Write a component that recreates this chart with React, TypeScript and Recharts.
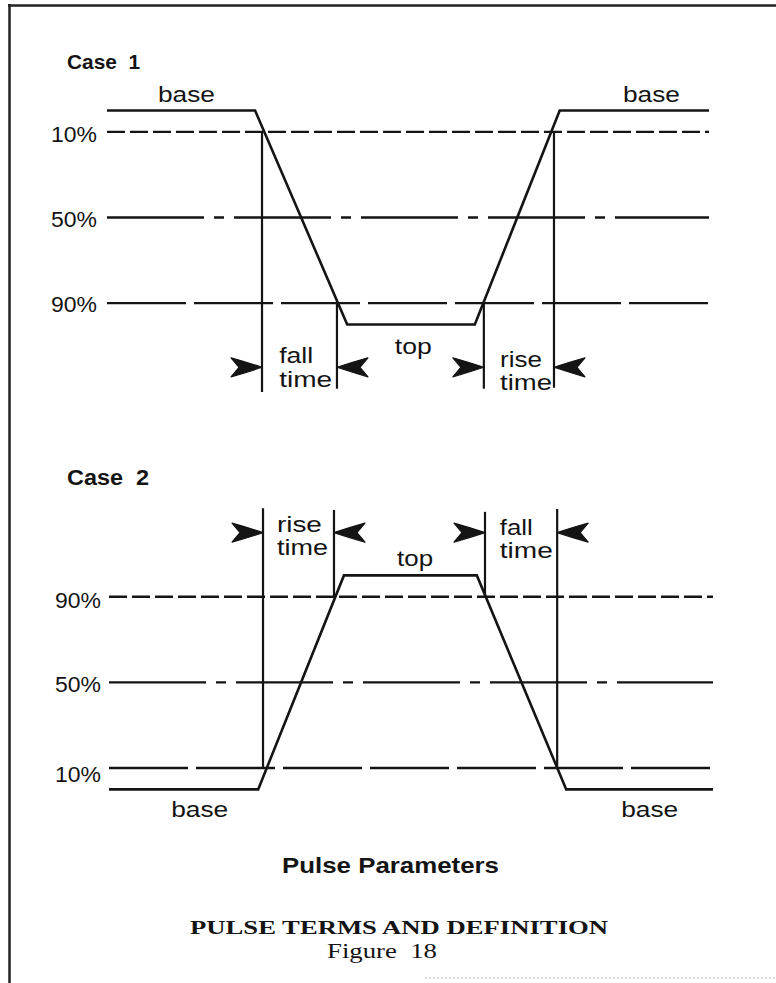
import React from 'react';
import { LineChart, Line, XAxis, YAxis, ReferenceLine, ReferenceDot } from 'recharts';

// ---- data (time in arbitrary units 0..100, level in % of pulse amplitude) ----
const levelTicks = [10, 50, 90];

const case1Time = [0, 24.6, 39.9, 61.1, 75.2, 100];
const case1Level = [0, 0, 100, 100, 0, 0];
const case2Time = [0, 24.7, 38.9, 60.9, 75.7, 100];
const case2Level = [0, 0, 100, 100, 0, 0];

// measurement marker lines (at 10% / 90% crossings)
const case1MarkerTimes = [25.75, 38.2, 62.6, 74.25];
const case1MarkerFrom = [10, 90, 90, 10];
const case1MarkerTo = [131.5, 130, 130, 129.5];
const case2MarkerTimes = [25.5, 37.25, 62.25, 74.2];
const case2MarkerFrom = [10, 90, 90, 10];
const case2MarkerTo = [131.4, 130.6, 129.7, 131];
// arrow directions: 1 points right (towards the line from the left), -1 points left
const markerArrowDir = [1, -1, 1, -1];
const arrowLevel = 120;

const case1Data = case1Time.map((t, i) => ({ t, v: case1Level[i] }));
const case2Data = case2Time.map((t, i) => ({ t, v: case2Level[i] }));

const SANS = "'Liberation Sans', Arial, Helvetica, sans-serif";
const SERIF = "'Liberation Serif', 'Times New Roman', serif";
const INK = '#141414';

const dashShort = '18 5';
const dashLong = '79 8';
const dashDot = '97 10 10 10';

const makeTick = (offsets: Record<number, number>) => (props: any) => {
  const { x, y, payload } = props;
  return (
    <text
      x={x}
      y={y + (offsets[payload.value] ?? 9)}
      textAnchor="end"
      fontFamily={SANS}
      fontSize={22}
      fill={INK}
      textLength={46}
      lengthAdjust="spacingAndGlyphs"
    >
      {payload.value}%
    </text>
  );
};

const arrowShape = (dir: number) => (props: any) => {
  const { cx, cy } = props;
  const d = `M0,0 Q${-15 * dir},-5 ${-31 * dir},-9.5 L${-23 * dir},0 L${-31 * dir},9.5 Q${-15 * dir},5 0,0 Z`;
  return <path transform={`translate(${cx},${cy})`} d={d} fill={INK} stroke={INK} strokeWidth={1.2} strokeLinejoin="round" />;
};

type Ann = { x: number; y: number; lines: string[]; lens: number[]; dy: number };

const textShape = (a: Ann) => (props: any) => (
  <text x={props.cx} y={props.cy} fontFamily={SANS} fontSize={22} fill={INK}>
    {a.lines.map((ln, i) => (
      <tspan
        key={i}
        x={props.cx}
        dy={i === 0 ? 0 : a.dy}
        textLength={a.lens[i]}
        lengthAdjust="spacingAndGlyphs"
      >
        {ln}
      </tspan>
    ))}
  </text>
);

const case1Labels: Ann[] = [
  { x: 8.47, y: -4, lines: ['base'], lens: [57], dy: 0 },
  { x: 85.7, y: -4, lines: ['base'], lens: [57], dy: 0 },
  { x: 28.6, y: 118, lines: ['fall', 'time'], lens: [34, 53], dy: 23.5 },
  { x: 47.8, y: 113.8, lines: ['top'], lens: [37], dy: 0 },
  { x: 65.3, y: 119.7, lines: ['rise', 'time'], lens: [42, 52], dy: 23.5 },
];
const case2Labels: Ann[] = [
  { x: 27.8, y: 120.4, lines: ['rise', 'time'], lens: [45, 51], dy: 23.5 },
  { x: 47.7, y: 104.4, lines: ['top'], lens: [36], dy: 0 },
  { x: 64.7, y: 119, lines: ['fall', 'time'], lens: [33, 53], dy: 23.5 },
  { x: 10.3, y: -12.8, lines: ['base'], lens: [57], dy: 0 },
  { x: 84.8, y: -12.8, lines: ['base'], lens: [57], dy: 0 },
];

function PulseChart(props: {
  data: { t: number; v: number }[];
  reversed: boolean;
  margin: { top: number; right: number; bottom: number; left: number };
  height: number;
  yWidth: number;
  tickMargin: number;
  tickOffsets: Record<number, number>;
  dashes: Record<number, string>;
  markerTimes: number[];
  markerFrom: number[];
  markerTo: number[];
  labels: Ann[];
}) {
  const p = props;
  return (
    <LineChart width={776} height={p.height} data={p.data} margin={p.margin}>
      <XAxis type="number" dataKey="t" domain={[0, 100]} hide />
      <YAxis
        type="number"
        domain={[-20, 150]}
        reversed={p.reversed}
        ticks={levelTicks}
        interval={0}
        axisLine={false}
        tickLine={false}
        width={p.yWidth}
        tickMargin={p.tickMargin}
        tick={makeTick(p.tickOffsets)}
      />
      {levelTicks.map((lv) => (
        <ReferenceLine key={'h' + lv} y={lv} stroke={INK} strokeWidth={2.4} strokeDasharray={p.dashes[lv]} />
      ))}
      {p.markerTimes.map((t, i) => (
        <ReferenceLine
          key={'v' + i}
          segment={[
            { x: t, y: p.markerFrom[i] },
            { x: t, y: p.markerTo[i] },
          ]}
          stroke={INK}
          strokeWidth={2.2}
        />
      ))}
      {p.markerTimes.map((t, i) => (
        <ReferenceDot
          key={'a' + i}
          x={t}
          y={arrowLevel}
          r={0}
          ifOverflow="visible"
          shape={arrowShape(markerArrowDir[i])}
        />
      ))}
      {p.labels.map((a, i) => (
        <ReferenceDot key={'l' + i} x={a.x} y={a.y} r={0} ifOverflow="visible" shape={textShape(a)} />
      ))}
      <Line
        type="linear"
        dataKey="v"
        stroke={INK}
        strokeWidth={2.6}
        dot={false}
        activeDot={false}
        isAnimationActive={false}
        strokeLinejoin="miter"
      />
    </LineChart>
  );
}

export default function App() {
  return (
    <div style={{ position: 'absolute', left: 0, top: 0, width: 776, height: 983, background: '#fff', overflow: 'hidden' }}>
      <svg width={776} height={983} style={{ position: 'absolute', left: 0, top: 0 }}>
        <line x1={9.5} y1={4} x2={9.5} y2={983} stroke="#222" strokeWidth={2.5} />
        <line x1={8} y1={5.5} x2={776} y2={5.5} stroke="#222" strokeWidth={2.5} />
        <line x1={425} y1={978} x2={776} y2={978} stroke="#bbb" strokeWidth={1} strokeDasharray="2 2" />
        <text x={67} y={69} fontFamily={SANS} fontWeight="bold" fontSize={21} fill={INK} textLength={73} lengthAdjust="spacingAndGlyphs" xmlSpace="preserve">
          Case  1
        </text>
        <text x={67} y={485} fontFamily={SANS} fontWeight="bold" fontSize={22} fill={INK} textLength={82} lengthAdjust="spacingAndGlyphs" xmlSpace="preserve">
          Case  2
        </text>
        <text x={282} y={873} fontFamily={SANS} fontWeight="bold" fontSize={22} fill={INK} textLength={217} lengthAdjust="spacingAndGlyphs">
          Pulse Parameters
        </text>
        <text x={190} y={934} fontFamily={SERIF} fontWeight="bold" fontSize={19.5} fill={INK} textLength={418} lengthAdjust="spacingAndGlyphs">
          PULSE TERMS AND DEFINITION
        </text>
        <text x={327} y={958} fontFamily={SERIF} fontSize={20} fill={INK} textLength={110} lengthAdjust="spacingAndGlyphs" xmlSpace="preserve">
          Figure  18
        </text>
      </svg>
      <div style={{ position: 'absolute', left: 0, top: 0 }}>
        <PulseChart
          data={case1Data}
          reversed={true}
          margin={{ top: 67.7, right: 67, bottom: 28.5, left: 0 }}
          height={460}
          yWidth={107}
          tickMargin={4}
          tickOffsets={{ 10: 10, 50: 9, 90: 9 }}
          dashes={{ 10: dashShort, 50: dashDot, 90: dashLong }}
          markerTimes={case1MarkerTimes}
          markerFrom={case1MarkerFrom}
          markerTo={case1MarkerTo}
          labels={case1Labels}
        />
      </div>
      <div style={{ position: 'absolute', left: 0, top: 440 }}>
        <PulseChart
          data={case2Data}
          reversed={false}
          margin={{ top: 28.4, right: 63, bottom: 27.8, left: 0 }}
          height={420}
          yWidth={109}
          tickMargin={2}
          tickOffsets={{ 10: 14, 50: 10, 90: 11 }}
          dashes={{ 10: dashLong, 50: dashDot, 90: dashShort }}
          markerTimes={case2MarkerTimes}
          markerFrom={case2MarkerFrom}
          markerTo={case2MarkerTo}
          labels={case2Labels}
        />
      </div>
    </div>
  );
}
